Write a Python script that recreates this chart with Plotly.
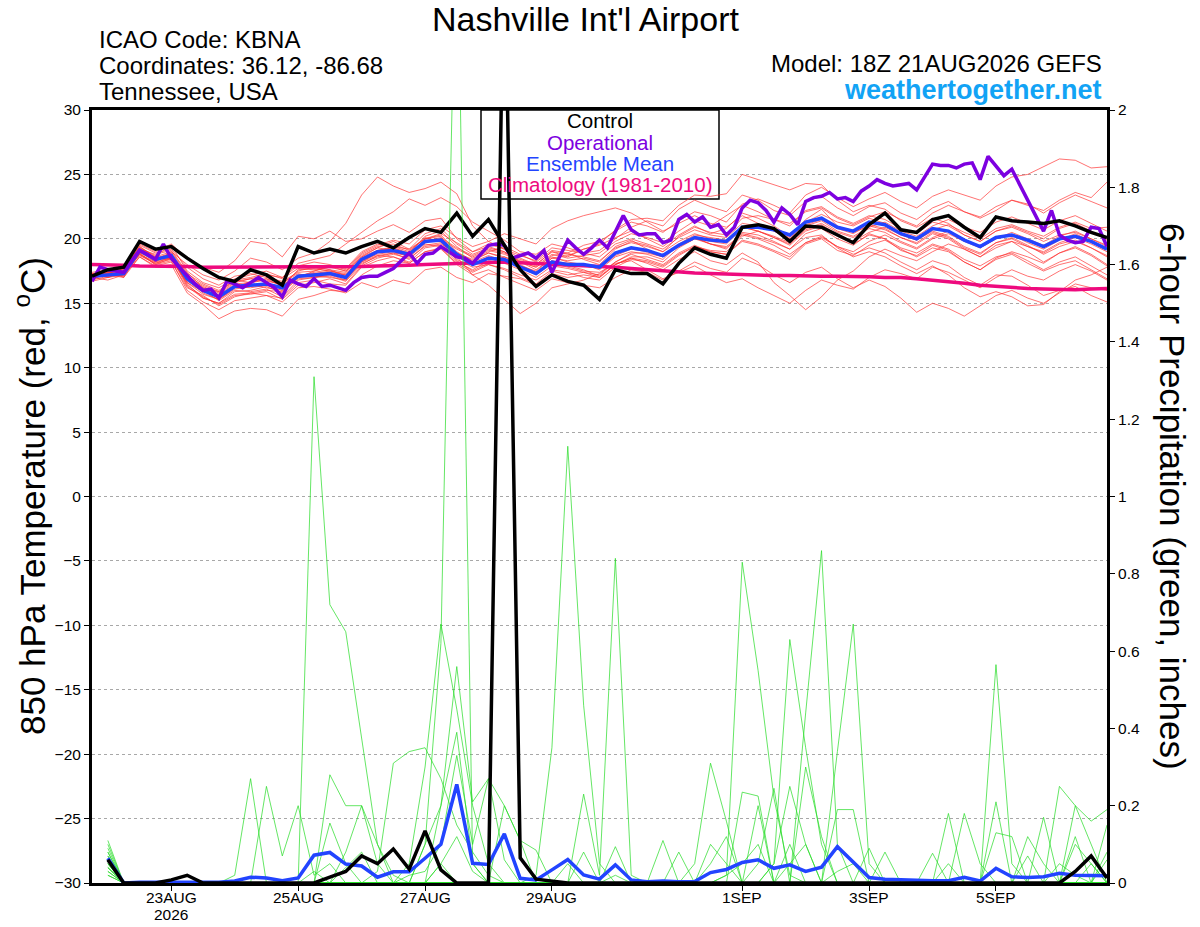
import pandas as pd
import plotly.graph_objects as go

# 6-hourly ensemble steps and 3-hourly operational steps, 18Z 21AUG2026 run
times = pd.date_range("2026-08-21 18:00", periods=65, freq="6h")
op_times = pd.date_range("2026-08-21 18:00", periods=129, freq="3h")

tick_days = ["2026-08-23", "2026-08-25", "2026-08-27", "2026-08-29",
             "2026-09-01", "2026-09-03", "2026-09-05"]
tick_labels = ["23AUG", "25AUG", "27AUG", "29AUG", "1SEP", "3SEP", "5SEP"]
year_label = "2026"

# 850 hPa temperature (C)
control_t = [17.1, 17.6, 17.8, 19.8, 19.2, 19.4, 18.5, 17.7, 17.0, 16.7, 17.6, 17.2, 16.4, 19.4, 18.9, 19.2, 18.9,
             19.4, 19.8, 19.3, 20.1, 20.8, 20.5, 22.0, 20.2, 21.5, 19.5, 17.6, 16.3, 17.2, 16.7, 16.4, 15.3,
             17.6, 17.3, 17.3, 16.5, 18.1, 19.3, 18.8, 18.5, 20.9, 21.1, 20.8, 19.8, 21.0, 20.9, 20.3, 19.7,
             21.1, 22.0, 20.7, 20.5, 21.5, 21.8, 20.9, 20.1, 21.7, 21.4, 21.3, 21.2, 21.4, 21.0, 20.5, 20.1]

mean_t = [17.1, 17.2, 17.3, 19.1, 18.4, 18.7, 16.9, 16.0, 15.5, 16.3, 16.4, 16.5, 16.2, 17.1, 17.2, 17.3, 17.0,
          18.4, 19.0, 19.1, 18.8, 19.8, 19.9, 18.8, 18.0, 18.5, 18.4, 17.8, 17.3, 18.2, 18.0, 18.0, 17.8,
          18.9, 19.3, 19.1, 18.7, 19.5, 20.1, 19.9, 19.8, 20.9, 20.9, 20.7, 20.3, 21.3, 21.6, 20.9, 20.6,
          21.3, 21.1, 20.4, 20.0, 20.8, 20.6, 19.9, 19.4, 20.1, 20.3, 19.9, 19.4, 20.0, 20.2, 19.8, 19.2]

clim_t = [18.0, 18.0, 17.95, 17.9, 17.9, 17.85, 17.85, 17.8, 17.8, 17.8, 17.8, 17.8, 17.8, 17.8, 17.8, 17.8, 17.8,
          17.85, 17.9, 17.9, 17.95, 18.0, 18.05, 18.1, 18.15, 18.2, 18.2, 18.15, 18.1, 18.0, 17.95, 17.9, 17.85,
          17.8, 17.7, 17.6, 17.5, 17.4, 17.35, 17.3, 17.25, 17.2, 17.2, 17.15, 17.15, 17.1, 17.1, 17.1, 17.1,
          17.05, 17.0, 17.0, 16.9, 16.8, 16.7, 16.55, 16.4, 16.3, 16.2, 16.15, 16.1, 16.05, 16.05, 16.1, 16.15]

oper_t = [16.7, 17.8, 17.6, 17.5, 17.4, 18.3, 19.1, 18.8, 18.4, 19.6, 18.5, 17.8, 17.1, 16.5, 16.0, 16.1,
          15.4, 16.7, 16.5, 16.2, 16.6, 17.0, 16.6, 16.2, 15.5, 16.8, 16.5, 16.3, 16.9, 16.3, 16.4, 16.2,
          16.0, 16.6, 17.0, 17.1, 17.1, 17.4, 17.7, 18.3, 18.9, 18.1, 18.8, 18.9, 19.4, 19.0, 18.6, 18.5,
          18.1, 18.8, 19.5, 19.6, 19.5, 18.5, 18.7, 18.9, 18.5, 19.1, 17.4, 18.6, 19.9, 19.3, 18.8, 19.3,
          19.9, 19.3, 20.5, 21.8, 20.7, 20.3, 20.4, 20.4, 19.7, 19.9, 21.5, 21.9, 21.3, 21.7, 20.9, 21.1,
          20.3, 20.9, 22.4, 23.0, 22.8, 22.2, 21.3, 22.4, 21.9, 21.1, 22.9, 23.2, 23.3, 23.6, 23.1, 23.2,
          22.9, 23.7, 24.1, 24.6, 24.3, 24.1, 24.2, 24.3, 23.8, 24.8, 25.8, 25.7, 25.7, 25.5, 25.8, 25.9,
          24.6, 26.4, 25.6, 24.9, 25.4, 24.2, 23.0, 21.8, 20.6, 22.2, 20.3, 19.9, 19.7, 19.8, 20.9, 20.8,
          19.4]

members_t = [
    [17.0, 17.4, 17.6, 18.8, 18.2, 19.0, 18.0, 17.2, 16.8, 17.5, 18.5, 18.2, 17.6, 18.5, 18.9, 19.8, 21.2,
     23.4, 24.8, 24.1, 23.6, 23.9, 24.4, 23.5, 21.0, 19.8, 19.2, 18.5, 18.0, 19.0, 18.6, 19.2, 19.5,
     20.1, 20.6, 20.0, 19.4, 20.3, 21.0, 20.4, 20.8, 22.0, 21.6, 21.0, 20.2, 21.5, 22.3, 21.0, 20.5,
     21.0, 20.7, 20.1, 19.6, 20.4, 20.0, 19.2, 18.6, 19.5, 19.8, 19.0, 18.2, 18.9, 19.4, 18.8, 18.0],
    [17.3, 17.0, 17.4, 19.3, 18.7, 19.5, 17.5, 16.6, 16.2, 16.9, 17.2, 17.5, 17.0, 18.1, 18.4, 18.7, 19.6,
     20.5, 21.4, 22.1, 23.1, 22.6, 23.2, 22.5, 21.3, 20.6, 19.9, 19.0, 18.8, 19.6, 19.3, 18.9, 19.1,
     20.0, 20.9, 21.4, 21.0, 22.3, 23.0, 22.5, 22.1, 23.4, 23.0, 22.2, 21.8, 22.9, 23.3, 22.4, 21.8,
     22.5, 22.8, 22.0, 21.5, 22.4, 22.9, 22.1, 21.6, 22.2, 23.0, 22.7, 22.0, 22.8, 23.4, 22.9, 22.4],
    [16.9, 17.3, 17.1, 18.9, 18.0, 18.5, 16.5, 15.4, 15.0, 15.9, 16.0, 16.3, 15.8, 17.0, 17.5, 17.8, 17.5,
     18.6, 19.3, 19.8, 19.2, 20.4, 20.8, 19.6, 18.8, 19.3, 19.0, 18.2, 17.8, 18.7, 18.9, 19.5, 19.8,
     20.6, 21.3, 21.0, 20.5, 21.4, 22.1, 21.8, 21.3, 22.7, 23.1, 22.6, 22.0, 23.4, 24.0, 23.2, 22.5,
     23.1, 23.6, 22.9, 22.4, 23.3, 23.8, 23.4, 23.0, 24.1, 24.8, 25.0, 25.6, 26.2, 26.1, 25.5, 25.6],
    [17.2, 17.5, 17.0, 18.6, 17.9, 18.2, 16.2, 15.6, 14.8, 15.5, 15.8, 15.6, 15.4, 16.6, 16.8, 16.5, 16.4,
     17.8, 18.3, 18.6, 18.1, 19.0, 19.3, 18.0, 17.2, 17.6, 17.0, 16.5, 16.0, 16.9, 16.6, 16.4, 16.2,
     17.0, 17.6, 17.4, 16.8, 17.5, 18.2, 17.7, 17.4, 18.5, 18.0, 17.2, 16.6, 17.4, 17.8, 16.9, 16.2,
     16.8, 16.3, 15.4, 14.3, 15.0, 14.6, 14.0, 14.8, 15.6, 16.0, 15.4, 15.0, 15.8, 16.5, 16.2, 16.0],
    [17.0, 16.8, 17.2, 19.0, 18.5, 18.9, 17.2, 16.0, 15.2, 16.0, 15.9, 16.1, 15.5, 16.8, 17.0, 17.1, 16.7,
     18.0, 18.7, 18.6, 18.2, 19.3, 19.5, 18.4, 17.8, 18.0, 17.6, 17.0, 16.5, 17.5, 17.2, 17.4, 17.0,
     18.0, 18.5, 18.1, 17.6, 18.4, 19.0, 18.3, 18.0, 18.9, 18.2, 16.6, 15.6, 14.5, 15.5, 16.8, 17.5,
     18.6, 19.2, 18.7, 18.3, 19.0, 19.6, 19.2, 18.6, 19.3, 19.8, 19.4, 19.0, 19.7, 20.1, 19.6, 19.0],
    [17.4, 17.6, 17.5, 19.5, 18.9, 19.2, 17.8, 16.9, 16.4, 17.1, 17.3, 17.0, 16.7, 17.4, 17.5, 17.9, 17.7,
     19.0, 19.6, 19.3, 18.9, 20.2, 20.6, 19.4, 18.5, 19.0, 19.4, 18.8, 18.2, 19.1, 18.9, 18.4, 18.0,
     19.2, 19.8, 19.5, 19.0, 20.2, 20.9, 20.5, 20.3, 21.6, 21.8, 21.5, 21.0, 22.2, 22.5, 21.7, 21.2,
     21.8, 21.5, 20.8, 20.4, 21.3, 21.0, 20.3, 19.8, 20.6, 20.9, 20.4, 19.8, 20.3, 20.5, 20.0, 19.4],
    [16.8, 17.1, 17.3, 19.2, 18.3, 18.8, 16.8, 15.8, 15.3, 16.2, 16.7, 16.9, 16.6, 17.3, 17.0, 17.2, 16.8,
     18.2, 18.9, 19.4, 19.0, 20.1, 19.8, 18.3, 17.5, 18.1, 18.6, 18.2, 17.6, 18.5, 18.3, 18.5, 18.2,
     19.4, 19.9, 19.2, 18.6, 19.4, 20.0, 19.6, 19.2, 20.5, 20.3, 19.8, 19.2, 20.4, 20.8, 20.0, 19.5,
     20.4, 20.0, 19.3, 18.9, 19.6, 19.2, 18.4, 17.9, 18.6, 18.9, 18.3, 17.6, 18.2, 18.6, 17.9, 17.2],
    [17.1, 17.3, 17.7, 19.4, 18.6, 18.4, 16.6, 15.9, 15.7, 16.5, 16.6, 16.8, 16.4, 17.2, 17.3, 17.4, 17.2,
     18.4, 19.1, 19.4, 19.2, 20.0, 20.2, 18.6, 17.2, 16.4, 15.3, 14.2, 15.0, 16.2, 16.5, 16.8, 17.3,
     18.2, 18.8, 18.4, 18.0, 18.9, 19.5, 19.0, 18.8, 19.8, 19.5, 19.0, 18.4, 19.6, 20.0, 19.1, 18.7,
     19.5, 19.9, 19.2, 18.6, 19.3, 19.0, 18.2, 17.6, 18.5, 19.0, 18.6, 18.1, 18.9, 19.3, 18.7, 17.9],
    [17.2, 17.0, 17.4, 18.7, 18.1, 18.6, 17.0, 16.3, 15.8, 16.6, 16.9, 17.2, 17.0, 17.9, 18.2, 18.0, 17.6,
     18.9, 19.5, 19.9, 19.6, 20.7, 21.0, 20.1, 19.4, 19.8, 20.4, 20.0, 19.6, 20.8, 21.4, 21.8, 22.1,
     22.4, 22.0, 21.3, 20.6, 21.2, 21.8, 21.2, 20.9, 21.8, 21.2, 20.6, 20.0, 21.0, 21.4, 20.6, 20.2,
     20.9, 21.3, 20.6, 20.2, 21.0, 21.5, 20.9, 20.5, 21.3, 21.7, 21.2, 20.7, 21.4, 21.8, 21.2, 20.6],
    [16.9, 17.2, 17.0, 18.9, 18.4, 18.7, 16.4, 15.5, 14.9, 15.6, 15.7, 15.9, 15.3, 16.4, 16.6, 16.9, 16.5,
     17.9, 18.5, 18.8, 18.5, 19.4, 19.6, 18.9, 18.4, 18.9, 18.6, 18.0, 17.4, 18.3, 17.9, 17.6, 17.1,
     18.0, 18.6, 18.6, 18.2, 19.3, 20.0, 19.8, 19.6, 20.8, 21.0, 20.8, 20.3, 21.3, 21.9, 21.3, 21.0,
     21.6, 21.2, 20.4, 19.9, 20.6, 20.2, 19.4, 18.9, 19.7, 20.1, 19.5, 18.8, 19.4, 19.8, 19.3, 18.6],
    [17.0, 17.4, 17.2, 18.6, 17.8, 18.0, 15.8, 14.9, 13.8, 14.4, 14.6, 14.5, 14.0, 15.3, 15.6, 16.0, 15.9,
     17.2, 17.9, 18.3, 18.1, 19.0, 19.2, 18.1, 17.4, 18.0, 17.7, 17.2, 16.8, 17.6, 17.4, 17.0, 16.8,
     17.8, 18.4, 18.2, 17.8, 18.7, 19.4, 19.1, 19.0, 20.2, 20.6, 20.2, 19.7, 20.8, 21.2, 20.5, 20.1,
     20.8, 20.5, 19.8, 19.3, 20.1, 20.6, 20.0, 19.3, 20.0, 20.3, 19.7, 19.2, 19.9, 20.4, 19.8, 19.2],
    [17.3, 17.5, 17.8, 19.6, 19.0, 19.6, 18.5, 17.8, 17.4, 18.3, 19.8, 19.6, 18.6, 20.2, 20.0, 20.6, 19.8,
     20.0, 20.6, 21.1, 20.5, 21.4, 21.6, 20.0, 19.0, 19.4, 19.0, 18.2, 17.8, 18.6, 18.2, 18.0, 17.6,
     18.6, 19.0, 18.8, 18.4, 19.6, 20.3, 20.1, 19.9, 20.9, 20.6, 20.1, 19.5, 20.6, 21.0, 20.2, 19.6,
     20.3, 20.0, 19.1, 18.7, 19.5, 19.1, 18.2, 17.6, 18.4, 18.8, 18.1, 17.5, 18.0, 18.3, 17.6, 16.9],
    [17.1, 17.1, 17.3, 19.0, 18.3, 18.5, 16.3, 15.4, 15.0, 15.7, 15.8, 16.0, 15.9, 16.9, 17.0, 17.3, 17.0,
     18.3, 18.8, 19.0, 18.6, 19.6, 19.4, 18.2, 17.6, 18.3, 18.1, 17.6, 17.0, 17.9, 17.7, 17.4, 17.2,
     18.2, 18.9, 18.9, 18.6, 19.5, 20.1, 19.6, 19.3, 20.3, 20.0, 19.5, 18.8, 19.7, 20.2, 19.4, 18.8,
     19.3, 18.9, 18.2, 17.6, 18.3, 17.9, 17.0, 16.4, 17.2, 17.1, 16.4, 15.6, 16.0, 16.3, 15.6, 15.1],
    [16.7, 17.0, 17.2, 18.8, 18.1, 18.4, 16.7, 16.1, 15.6, 16.3, 16.2, 16.4, 16.2, 17.0, 17.1, 17.0, 16.8,
     18.1, 18.6, 18.9, 18.7, 19.7, 20.0, 19.2, 18.6, 19.1, 18.8, 18.3, 17.9, 18.8, 18.5, 18.7, 18.9,
     19.8, 20.4, 20.1, 19.7, 20.6, 21.4, 21.0, 21.8, 22.6, 22.1, 21.5, 21.2, 22.1, 22.4, 21.6, 21.1,
     21.7, 22.1, 21.5, 21.0, 22.0, 22.6, 22.1, 21.7, 22.5, 23.0, 22.6, 22.2, 23.0, 23.6, 23.2, 24.4],
    [17.2, 17.3, 17.1, 19.2, 18.8, 19.1, 17.4, 16.2, 15.9, 16.8, 16.6, 16.9, 16.3, 17.6, 17.7, 17.5, 17.3,
     18.5, 19.0, 19.2, 18.8, 19.9, 20.0, 18.9, 18.2, 18.7, 18.3, 17.8, 17.2, 18.1, 17.8, 17.5, 17.4,
     18.1, 18.3, 17.6, 16.9, 17.4, 17.9, 17.2, 16.6, 16.9, 16.2, 15.6, 15.0, 16.0, 16.8, 16.4, 16.1,
     17.0, 17.6, 17.3, 16.9, 17.8, 17.4, 16.8, 16.2, 17.0, 17.6, 17.1, 16.8, 17.5, 18.0, 17.5, 16.8],
    [16.9, 17.5, 17.6, 19.4, 18.5, 18.8, 17.1, 16.4, 15.9, 16.7, 16.9, 16.7, 16.5, 17.5, 17.8, 17.6, 17.4,
     18.7, 19.3, 19.1, 18.7, 20.0, 20.4, 19.7, 19.0, 19.6, 19.2, 18.7, 18.3, 19.3, 19.1, 18.9, 18.6,
     19.6, 20.0, 19.6, 19.2, 20.1, 20.7, 20.3, 20.1, 21.2, 21.0, 20.6, 20.1, 21.1, 21.5, 20.8, 20.4,
     21.1, 20.8, 20.1, 19.7, 20.5, 20.1, 19.3, 18.8, 19.7, 20.0, 19.4, 18.9, 19.6, 19.9, 19.3, 18.7],
    [17.0, 17.2, 17.4, 18.8, 18.0, 18.3, 16.0, 15.1, 14.5, 15.2, 15.4, 15.6, 15.1, 16.2, 16.3, 16.1, 15.8,
     16.6, 16.2, 16.8, 16.5, 17.6, 17.8, 17.0, 16.6, 17.3, 17.1, 16.9, 16.4, 17.3, 17.0, 17.2, 17.0,
     18.0, 18.5, 18.3, 17.9, 18.8, 19.4, 19.0, 18.8, 19.9, 19.6, 19.1, 18.6, 19.7, 20.1, 19.4, 19.0,
     19.8, 20.3, 19.7, 19.2, 20.0, 20.4, 19.8, 19.3, 20.0, 20.5, 20.0, 19.5, 20.2, 20.6, 20.0, 19.5],
    [17.3, 17.1, 17.5, 19.1, 18.6, 19.0, 17.3, 16.5, 16.0, 16.8, 17.0, 17.3, 16.9, 17.7, 17.6, 17.9, 17.5,
     18.8, 19.4, 19.6, 19.1, 20.0, 20.3, 19.0, 18.3, 18.9, 18.5, 17.9, 17.5, 18.5, 18.7, 19.2, 19.6,
     20.7, 21.5, 21.6, 21.4, 22.6, 23.4, 23.3, 23.5, 25.0, 24.6, 24.2, 23.8, 24.3, 24.2, 23.0, 22.1,
     22.6, 22.3, 21.4, 20.9, 21.6, 21.2, 20.3, 19.8, 20.6, 21.0, 20.5, 20.0, 20.8, 21.2, 20.6, 19.9],
    [17.1, 17.4, 17.3, 19.3, 18.4, 18.6, 16.6, 15.7, 15.3, 16.1, 16.3, 16.4, 16.0, 17.1, 17.4, 17.6, 17.1,
     18.2, 18.7, 18.9, 18.4, 19.5, 19.7, 18.7, 18.0, 18.6, 18.4, 17.9, 17.4, 18.3, 18.1, 17.9, 17.7,
     18.7, 19.2, 19.0, 18.6, 19.5, 20.1, 19.6, 19.4, 20.4, 20.1, 19.7, 19.2, 20.1, 20.3, 19.3, 18.6,
     19.0, 18.6, 17.9, 17.3, 17.9, 17.2, 16.2, 15.5, 15.9, 15.5, 14.8, 14.9, 15.9, 16.8, 17.2, 17.8],
    [17.0, 17.2, 17.5, 19.0, 18.2, 18.5, 16.9, 16.2, 15.6, 16.4, 16.5, 16.2, 16.0, 17.0, 17.3, 17.5, 17.2,
     18.6, 19.1, 19.3, 18.8, 19.8, 20.1, 19.3, 18.7, 19.2, 18.9, 18.4, 18.0, 19.0, 18.8, 18.6, 18.3,
     19.3, 19.7, 19.4, 19.0, 19.8, 20.4, 20.0, 19.8, 20.9, 20.6, 20.1, 19.6, 20.7, 21.1, 20.3, 19.8,
     20.5, 20.9, 20.3, 19.9, 20.7, 21.1, 20.5, 20.0, 20.8, 21.1, 20.6, 20.2, 20.9, 21.3, 20.8, 20.9],
]

# 6-hour precipitation (inches), first accumulation ends 00Z 22AUG
control_p = [0.06, 0, 0, 0, 0.008, 0.02, 0, 0, 0, 0, 0, 0, 0, 0, 0.015, 0.03,
             0.07, 0.05, 0.088, 0.036, 0.135, 0.034, 0, 0, 0, 2.5, 0.065, 0.01, 0.005, 0, 0, 0,
             0, 0, 0, 0, 0, 0, 0, 0, 0, 0, 0, 0, 0, 0, 0, 0,
             0, 0, 0, 0, 0, 0, 0, 0, 0, 0, 0, 0, 0, 0.03, 0.07, 0.013]

mean_p = [0.064, 0, 0.002, 0.002, 0.003, 0.004, 0.002, 0.002, 0.005, 0.015, 0.013, 0.006, 0.013, 0.072, 0.079, 0.049,
          0.044, 0.015, 0.029, 0.029, 0.064, 0.1, 0.255, 0.051, 0.048, 0.127, 0.012, 0.008, 0.034, 0.061, 0.021, 0.01,
          0.047, 0.008, 0.003, 0.005, 0.003, 0.004, 0.027, 0.035, 0.053, 0.06, 0.038, 0.047, 0.03, 0.041, 0.094, 0.053,
          0.014, 0.01, 0.008, 0.006, 0.006, 0.006, 0.015, 0.005, 0.038, 0.016, 0.014, 0.016, 0.025, 0.02, 0.02, 0.019]

members_p = [
    [0.08, 0, 0, 0, 0, 0, 0, 0, 0, 0, 0, 0, 0, 1.31, 0.72, 0.65,
     0.37, 0.1, 0.02, 0, 0, 0.05, 0.12, 0.03, 0, 0, 0, 0, 0, 0, 0, 0,
     0, 0, 0, 0, 0, 0, 0, 0.02, 0.05, 0.1, 0, 0, 0, 0, 0.03, 0.05,
     0, 0, 0, 0, 0, 0, 0, 0, 0, 0, 0, 0, 0.05, 0.02, 0, 0],
    [0.06, 0, 0, 0, 0, 0, 0, 0, 0.02, 0.27, 0, 0, 0, 0, 0.28, 0.2,
     0.2, 0.05, 0, 0, 0.1, 0.2, 0.39, 0.05, 0, 0, 0, 0, 0, 0.05, 0, 0,
     0.02, 0, 0, 0, 0, 0.05, 0.31, 0.16, 0, 0, 0, 0.05, 0.1, 0, 0, 0,
     0, 0, 0, 0, 0, 0, 0.18, 0.05, 0, 0, 0, 0, 0, 0, 0, 0],
    [0.05, 0, 0, 0, 0, 0, 0, 0, 0, 0, 0.25, 0.07, 0.2, 0.02, 0.05, 0,
     0, 0, 0, 0.02, 0.03, 0.1, 0.33, 0.1, 0.27, 0.2, 0.11, 0.085, 0, 0, 0, 0,
     0, 0, 0, 0, 0, 0, 0, 0, 0.235, 0.225, 0, 0, 0, 0, 0, 0,
     0.09, 0, 0, 0, 0, 0, 0, 0, 0, 0, 0, 0, 0.25, 0.2, 0.16, 0.19],
    [0.04, 0, 0, 0, 0, 0, 0, 0, 0, 0, 0, 0, 0, 0, 0.155, 0.05,
     0, 0.03, 0.31, 0.34, 0.35, 0.27, 0.15, 0.08, 0.02, 0, 0, 0, 0, 0, 0, 0,
     0, 0, 0, 0, 0, 0, 0, 0, 0, 0, 0.05, 0.25, 0.1, 0, 0, 0,
     0, 0.08, 0, 0, 0, 0, 0, 0, 0, 0, 0, 0, 0, 0, 0, 0],
    [0.07, 0, 0, 0, 0, 0, 0, 0, 0, 0, 0, 0, 0, 0, 0, 0,
     0, 0, 0, 0.05, 0.3, 0.67, 0.45, 0.2, 0.05, 0, 0, 0, 0, 0, 0, 0,
     0, 0, 0, 0.11, 0, 0, 0, 0, 0, 0, 0, 0, 0.44, 0.86, 0.1, 0,
     0, 0, 0, 0, 0, 0, 0, 0, 0, 0, 0, 0, 0, 0, 0, 0],
    [0.03, 0, 0, 0, 0, 0, 0, 0, 0, 0, 0, 0, 0, 0, 0, 0,
     0, 0, 0, 0, 0.1, 0.62, 2.6, 0.05, 0, 0, 0, 0, 0, 0, 0, 0,
     0, 0, 0, 0, 0, 0, 0, 0, 0, 0, 0, 0, 0, 0, 0, 0,
     0, 0, 0, 0, 0, 0, 0, 0, 0, 0, 0, 0, 0, 0, 0, 0],
    [0.1, 0, 0, 0, 0, 0, 0, 0, 0, 0, 0, 0, 0, 0, 0, 0.04,
     0.08, 0, 0, 0, 0, 0.2, 0.56, 0.21, 0.27, 0.06, 0, 0, 0, 0, 0, 0,
     0.094, 0, 0, 0, 0, 0, 0, 0, 0, 0.05, 0.245, 0, 0, 0, 0, 0,
     0, 0, 0, 0, 0.077, 0, 0, 0, 0, 0, 0, 0, 0, 0, 0, 0],
    [0.05, 0, 0, 0, 0, 0, 0, 0, 0, 0, 0, 0, 0, 0, 0, 0,
     0, 0, 0, 0, 0, 0, 0, 0, 0, 0, 0, 0.02, 0.35, 1.13, 0.46, 0.05,
     0, 0, 0, 0, 0, 0, 0, 0, 0, 0, 0, 0, 0, 0, 0, 0,
     0, 0, 0, 0, 0, 0, 0, 0, 0, 0, 0, 0.17, 0, 0, 0, 0],
    [0.06, 0, 0, 0, 0, 0, 0, 0, 0, 0, 0, 0, 0, 0, 0, 0,
     0, 0, 0, 0, 0, 0, 0, 0, 0, 0.2, 0.11, 0, 0, 0, 0.23, 0.02,
     0.84, 0.02, 0, 0, 0, 0, 0, 0, 0, 0, 0, 0, 0, 0, 0, 0,
     0, 0, 0, 0, 0, 0.05, 0, 0, 0.13, 0.12, 0, 0, 0, 0, 0, 0],
    [0.02, 0, 0, 0, 0, 0, 0, 0, 0, 0, 0, 0, 0, 0, 0, 0,
     0, 0, 0, 0, 0, 0, 0, 0, 0, 0, 0, 0, 0, 0, 0, 0,
     0, 0, 0, 0, 0, 0, 0, 0.02, 0.83, 0.55, 0.22, 0.02, 0, 0, 0, 0,
     0, 0, 0, 0, 0, 0, 0, 0, 0, 0, 0, 0, 0, 0, 0, 0.06],
    [0.09, 0, 0, 0, 0, 0, 0, 0, 0, 0, 0, 0, 0, 0.03, 0, 0,
     0, 0, 0, 0, 0, 0, 0, 0, 0, 0, 0, 0, 0, 0, 0, 0,
     0, 0, 0, 0, 0, 0, 0.1, 0.05, 0, 0, 0.05, 0.63, 0.35, 0.1, 0, 0,
     0, 0, 0, 0, 0, 0, 0, 0, 0, 0, 0, 0, 0, 0, 0.05, 0],
    [0.04, 0, 0, 0, 0, 0, 0, 0, 0, 0, 0, 0, 0, 0, 0, 0,
     0, 0, 0, 0, 0, 0, 0, 0, 0, 0, 0, 0, 0, 0, 0, 0,
     0, 0, 0, 0, 0, 0, 0, 0, 0, 0, 0, 0, 0, 0, 0.34, 0.67,
     0.05, 0, 0, 0, 0, 0, 0, 0, 0, 0, 0, 0, 0, 0, 0, 0],
    [0.06, 0, 0, 0, 0, 0, 0, 0, 0, 0, 0, 0, 0, 0, 0, 0,
     0, 0, 0, 0, 0, 0, 0, 0, 0, 0, 0, 0, 0, 0, 0, 0,
     0, 0, 0, 0, 0, 0, 0, 0, 0, 0, 0, 0, 0, 0, 0, 0,
     0, 0, 0, 0, 0, 0, 0, 0, 0.565, 0.05, 0, 0, 0, 0, 0, 0],
    [0.11, 0, 0, 0, 0, 0, 0, 0, 0, 0, 0, 0, 0, 0, 0, 0.08,
     0.2, 0.1, 0, 0, 0, 0.05, 0, 0, 0, 0, 0, 0, 0, 0, 0, 0,
     0, 0, 0, 0, 0, 0, 0, 0, 0, 0, 0, 0, 0, 0, 0.19, 0.19,
     0, 0, 0, 0, 0, 0, 0, 0, 0.21, 0, 0, 0, 0, 0.1, 0.05, 0],
    [0.03, 0, 0, 0, 0, 0, 0, 0, 0, 0, 0, 0, 0, 0, 0, 0,
     0, 0, 0, 0, 0, 0, 0, 0, 0, 0, 0, 0, 0, 0, 0, 0,
     0, 0, 0, 0, 0, 0, 0, 0, 0, 0, 0, 0, 0.3, 0.12, 0, 0,
     0, 0, 0, 0, 0, 0.18, 0, 0, 0, 0, 0, 0, 0, 0.2, 0.1, 0],
    [0.07, 0, 0, 0, 0, 0, 0, 0, 0, 0, 0, 0, 0, 0, 0, 0,
     0, 0, 0, 0, 0, 0, 0, 0, 0, 0, 0, 0, 0, 0, 0, 0,
     0, 0, 0, 0, 0.08, 0, 0, 0, 0, 0.2, 0, 0, 0, 0, 0, 0,
     0, 0, 0, 0, 0, 0, 0, 0, 0, 0, 0.07, 0, 0, 0, 0, 0],
    [0.05, 0, 0, 0, 0, 0, 0, 0, 0, 0, 0, 0, 0, 0, 0, 0,
     0, 0, 0, 0, 0, 0, 0, 0, 0, 0, 0, 0, 0, 0, 0, 0,
     0, 0, 0, 0, 0, 0, 0.05, 0.12, 0, 0, 0, 0, 0, 0, 0, 0,
     0, 0, 0, 0, 0, 0, 0, 0, 0, 0, 0, 0, 0, 0, 0, 0],
    [0.08, 0, 0, 0, 0, 0, 0, 0, 0, 0, 0, 0, 0, 0, 0, 0,
     0, 0, 0, 0, 0, 0, 0, 0, 0, 0, 0, 0, 0, 0, 0.08, 0,
     0, 0, 0, 0, 0, 0, 0, 0, 0, 0, 0, 0, 0, 0, 0, 0,
     0, 0, 0, 0, 0, 0, 0, 0, 0, 0, 0, 0, 0, 0.12, 0, 0.15],
    [0.02, 0, 0, 0, 0, 0, 0, 0, 0, 0, 0, 0, 0, 0, 0, 0,
     0, 0, 0, 0, 0, 0, 0, 0, 0, 0, 0, 0, 0, 0, 0, 0,
     0, 0, 0, 0, 0, 0, 0, 0, 0, 0, 0, 0.1, 0, 0, 0, 0,
     0, 0, 0, 0, 0, 0, 0, 0, 0, 0, 0.12, 0.05, 0, 0, 0, 0],
    [0.04, 0, 0, 0, 0, 0, 0, 0, 0, 0, 0, 0, 0, 0, 0, 0,
     0, 0, 0, 0, 0, 0, 0, 0, 0, 0, 0, 0, 0, 0, 0, 0,
     0, 0, 0, 0, 0, 0, 0, 0, 0, 0, 0, 0, 0, 0, 0, 0,
     0, 0, 0, 0, 0, 0, 0, 0, 0, 0, 0, 0, 0, 0, 0, 0.08],
]

for s in [control_t, mean_t, clim_t] + members_t:
    assert len(s) == 65, len(s)
for s in [control_p, mean_p] + members_p:
    assert len(s) == 64, len(s)
assert len(oper_t) == 129

RED = "rgba(255,45,45,0.75)"
GREEN = "rgba(40,220,40,0.9)"
BLACK = "#000000"
PURPLE = "#7d00e0"
BLUE = "#2244ff"
PINK = "#ee0a7e"
FONT = "Liberation Sans, Arial, sans-serif"

fig = go.Figure()

for m in members_t:
    fig.add_trace(go.Scatter(x=times, y=m, mode="lines", line=dict(color=RED, width=0.9)))
fig.add_trace(go.Scatter(x=times, y=clim_t, mode="lines", line=dict(color=PINK, width=3.5)))
fig.add_trace(go.Scatter(x=times, y=mean_t, mode="lines", line=dict(color=BLUE, width=3.5)))
fig.add_trace(go.Scatter(x=op_times, y=oper_t, mode="lines", line=dict(color=PURPLE, width=3.5)))
fig.add_trace(go.Scatter(x=times, y=control_t, mode="lines", line=dict(color=BLACK, width=3.5)))

ptimes = times[1:]
for m in members_p:
    fig.add_trace(go.Scatter(x=ptimes, y=m, mode="lines", yaxis="y2",
                             line=dict(color=GREEN, width=0.8)))
fig.add_trace(go.Scatter(x=ptimes, y=mean_p, mode="lines", yaxis="y2",
                         line=dict(color=BLUE, width=3.5)))
fig.add_trace(go.Scatter(x=ptimes, y=control_p, mode="lines", yaxis="y2",
                         line=dict(color=BLACK, width=3.5)))

# plot area in pixels: x 92..1107, y 110..883
L, R, T, B = 92, 1107, 110, 883
W, H = 1200, 927
day_px = (R - L) / 16.0


def px(x, y):
    return (x - L) / (R - L), (B - y) / (B - T)


def label(text, x, y, size, color=BLACK, xanchor="left", angle=0, bold=False):
    xp, yp = px(x, y)
    if bold:
        text = "<b>" + text + "</b>"
    fig.add_annotation(text=text, x=xp, y=yp, xref="paper", yref="paper",
                       xanchor=xanchor, yanchor="middle", showarrow=False,
                       textangle=angle, font=dict(family=FONT, size=size, color=color))


label("Nashville Int'l Airport", 586, 19, 34, xanchor="center")
label("ICAO Code: KBNA", 97, 40, 24)
label("Coordinates: 36.12, -86.68", 97, 66, 24)
label("Tennessee, USA", 97, 92, 24)
label("Model: 18Z 21AUG2026 GEFS", 1104, 63, 24, xanchor="right")
label("weathertogether.net", 1104, 90, 27, color="#12a3f5", xanchor="right", bold=True)

# date labels sit closer to the axis than plotly's own tick labels
axis_font = dict(family=FONT, size=15.5, color=BLACK)
for day, text in zip(tick_days, tick_labels):
    fig.add_annotation(text=text, x=day, y=px(0, 897)[1], xref="x", yref="paper",
                       xanchor="center", yanchor="middle", showarrow=False, font=axis_font)
fig.add_annotation(text=year_label, x=tick_days[0], y=px(0, 914)[1], xref="x", yref="paper",
                   xanchor="center", yanchor="middle", showarrow=False, font=axis_font)

# legend box: white panel over the grid, under the lines
box_x0 = times[0] + pd.Timedelta(days=(481 - L) / day_px)
box_x1 = times[0] + pd.Timedelta(days=(719 - L) / day_px)
box_y0 = 30 - (199 - T) * 60.0 / (B - T)
fig.add_shape(type="rect", xref="x", yref="y", x0=box_x0, x1=box_x1, y0=box_y0, y1=30,
              fillcolor="white", line=dict(color=BLACK, width=1.5), layer="between")
label("Control", 600, 121, 20.5, xanchor="center")
label("Operational", 600, 142, 20.5, color=PURPLE, xanchor="center")
label("Ensemble Mean", 600, 163, 20.5, color=BLUE, xanchor="center")
label("Climatology (1981-2010)", 600, 185, 20.5, color=PINK, xanchor="center")

label("850 hPa Temperature (red, <sup>o</sup>C)", 30, 496, 35, xanchor="center", angle=-90)
label("6-hour Precipitation (green, inches)", 1173, 496, 35, xanchor="center", angle=90)

fig.update_layout(
    width=W, height=H,
    margin=dict(l=L, r=W - R, t=T, b=H - B, autoexpand=False),
    paper_bgcolor="white", plot_bgcolor="white",
    showlegend=False,
    xaxis=dict(type="date", range=[times[0], times[-1]], automargin=False,
               tickvals=tick_days, showticklabels=False,
               ticks="outside", ticklen=5, tickwidth=1, tickcolor=BLACK,
               showgrid=False, zeroline=False,
               showline=True, mirror=True, linecolor=BLACK, linewidth=3),
    yaxis=dict(range=[-30, 30], dtick=5, tick0=0, automargin=False,
               ticks="outside", ticklen=5, tickwidth=1, tickcolor=BLACK,
               showgrid=True, gridcolor="#a8a8a8", griddash="dot", gridwidth=1,
               zeroline=False, showline=True, mirror=True,
               linecolor=BLACK, linewidth=3, tickfont=axis_font),
    yaxis2=dict(range=[0, 2], dtick=0.2, tick0=0, overlaying="y", side="right",
                automargin=False,
                ticks="outside", ticklen=5, tickwidth=1, tickcolor=BLACK,
                showgrid=False, zeroline=False, showline=True,
                linecolor=BLACK, linewidth=3, tickfont=axis_font),
)

# the page's default body margin would shift the figure by 8 px
fig.write_html("out.html", config={"displayModeBar": False},
               post_script="document.body.style.margin = '0px';")
